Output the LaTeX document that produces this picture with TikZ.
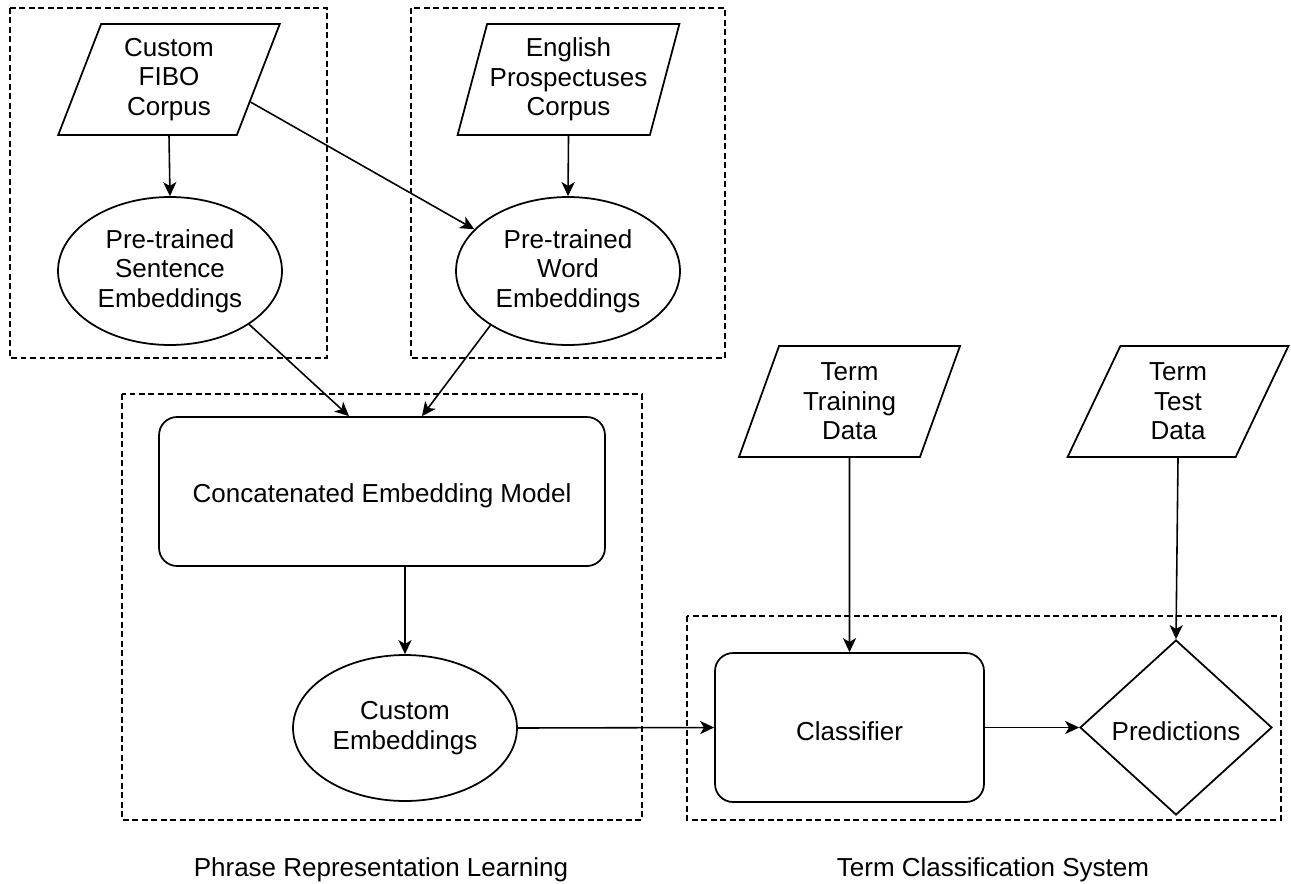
\documentclass[tikz,border=0pt]{standalone}
\usepackage{fontspec}
\setmainfont{Liberation Sans}
\usetikzlibrary{shapes.geometric,arrows.meta,calc}

\begin{document}
\begin{tikzpicture}[x=0.02cm,y=-0.02cm,font=\fontsize{14.8}{16.7}\selectfont,
lowtext/.style={execute at begin node={\rule{0pt}{15.3pt}}},
datastyle/.style={trapezium,trapezium left angle=71,trapezium right angle=109,trapezium stretches=true,draw,line width=1pt,minimum width=4.44cm,minimum height=2.22cm,inner sep=0pt,align=center,lowtext},
embedstyle/.style={ellipse,draw,line width=1pt,minimum width=4.48cm,minimum height=2.96cm,inner sep=1pt,align=center,lowtext},
procstyle/.style={rectangle,rounded corners=0.36cm,draw,line width=1pt,minimum height=2.98cm,align=center,lowtext},
groupstyle/.style={draw,line width=0.8pt,dash pattern=on 3.4pt off 2pt},
arr/.style={-{Stealth[length=8pt,width=7.5pt,inset=2.2pt]},line width=0.9pt}]
\useasboundingbox (0,0) rectangle (1291,883);
% dashed groups
\foreach \xa/\ya/\xb/\yb in {10/8/327/358,411/8/725/358,122/394/642/820,687/616/1281/820}
  \draw[groupstyle] (\xa,\ya) rectangle (\xb,\yb);

\node[datastyle](fibo) at (169,79.5){Custom\\FIBO\\Corpus};
\node[datastyle](prosp) at (568.5,79.5){English\\Prospectuses\\Corpus};
\node[datastyle](train) at (849.5,401.5){Term\\Training\\Data};
\node[datastyle](test) at (1178,401.5){Term\\Test\\Data};
\node[embedstyle](sent) at (170,271){Pre-trained\\Sentence\\Embeddings};
\node[embedstyle](word) at (568,271){Pre-trained\\Word\\Embeddings};
\node[procstyle,minimum width=8.92cm](concat) at (382,491.5){Concatenated Embedding Model};
\node[embedstyle,minimum height=2.92cm](custom) at (405,728){Custom\\Embeddings};
\node[procstyle,minimum width=5.38cm](clf) at (849.5,727.5){Classifier};
\node[diamond,draw,line width=1pt,minimum width=3.84cm,minimum height=3.5cm,inner sep=0pt,lowtext](pred) at (1176,727.5){Predictions};

\node[anchor=base](lblphrase) at (381,876){Phrase Representation Learning};
\node[anchor=base](lblterm) at (993,876){Term Classification System};

\draw[arr] (fibo.south)--(sent.north);
\draw[arr] ($(fibo.top right corner)!0.7!(fibo.bottom right corner)$)--(word.156);
\draw[arr] (prosp.south)--(word.north);
\draw[arr] (sent.-34)--([xshift=-0.66cm]concat.north);
\draw[arr] (word.-145)--([xshift=0.8cm]concat.north);
\draw[arr] (concat.south -| custom.north)--(custom.north);
\draw[arr] (custom.east)--(clf.west);
\draw[arr] (clf.east)--(pred.west);
\draw[arr] (train.south)--(clf.north);
\draw[arr] (test.south)--(pred.north);

\end{tikzpicture}
\end{document}
